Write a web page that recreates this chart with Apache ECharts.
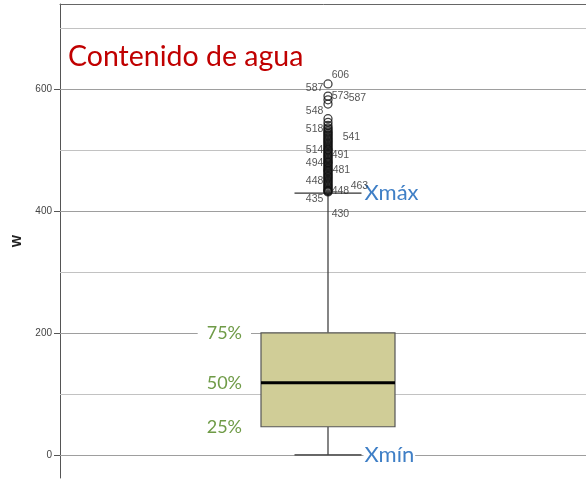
<!DOCTYPE html>
<html>
<head>
<meta charset="utf-8">
<script src="https://cdn.jsdelivr.net/npm/echarts@6/dist/echarts.min.js"></script>
<style>
  html, body { margin: 0; padding: 0; background: #fff; }
  #chart { width: 586px; height: 479px; }
</style>
</head>
<body>
<div id="chart"></div>
<script>
// Water content (W) box plot with labelled outliers
const categories = ['W'];
const yTickValues = [0, 200, 400, 600];
const yMinorValues = [100, 300, 500, 700];
// [min, Q1, median, Q3, max] of the whiskered range
const boxStats = [0, 46, 118, 200, 429];
const quartileNames = ['25%', '50%', '75%'];
const whiskerNames = ['Xmín', 'Xmáx'];
const outlierValues = [
  608, 588, 582, 575, 551, 545, 540, 536, 534, 531, 529, 527, 525, 523,
  521, 519, 517, 515, 513, 511, 509, 507, 505, 503, 501, 500, 498, 496,
  494, 492, 490, 488, 486, 484, 482, 480, 479, 477, 475, 473, 471, 469,
  467, 466, 464, 462, 460, 458, 456, 454, 452, 450, 448, 446, 444, 442,
  440, 438, 436, 434, 433, 432, 431
];
// case numbers shown next to some outliers
const caseAtValue = [608, 588, 582, 575, 551, 534, 521, 500, 492, 479, 466, 448, 440, 433, 432, 431];
const caseIds = ['606', '587', '573', '587', '548', '518', '541', '514', '491', '494', '481', '448', '463', '448', '430', '435'];

// label placement per case number: [side, dx, dy]
const casePlacement = [
  ['right', -3, -9], ['left', 2, -8], ['right', -3, -4], ['right', 14, -6],
  ['left', 2, -8], ['left', 2, 0], ['right', 8, 0], ['left', 2, 0],
  ['right', -3, 0], ['left', 2, 0], ['right', -2, 0], ['left', 2, 0],
  ['right', 16, 0], ['right', -3, 0], ['right', -3, 23], ['left', 2, 7]
];

const outlierData = outlierValues.map(v => {
  const k = caseAtValue.indexOf(v);
  const item = { value: [categories[0], v] };
  if (k >= 0) {
    const p = casePlacement[k];
    item.label = {
      show: true,
      formatter: caseIds[k],
      position: p[0],
      distance: 2,
      offset: [p[1], p[2]]
    };
  }
  return item;
});

const gridLines = yTickValues.map(v => ({ yAxis: v, lineStyle: { color: '#9e9e9e', width: 1.2, type: 'solid' } }))
  .concat(yMinorValues.map(v => ({ yAxis: v, lineStyle: { color: '#c2c2c2', width: 1.2, type: 'solid' } })));

const chart = echarts.init(document.getElementById('chart'), null, { renderer: 'canvas' });

chart.setOption({
  animation: false,
  backgroundColor: '#ffffff',
  title: {
    text: 'Contenido de agua',
    left: 63,
    top: 37,
    textStyle: { color: '#c00000', fontSize: 28.5, fontWeight: 'normal', fontFamily: 'Lato' }
  },
  grid: { left: 60, right: -10, top: 4, bottom: 1, show: false, outerBoundsMode: 'none', containLabel: false },
  xAxis: [
    {
      type: 'category', data: categories, boundaryGap: true,
      axisLine: { show: true, lineStyle: { color: '#aaaaaa', width: 1 } },
      axisTick: { show: false }, axisLabel: { show: false }, splitLine: { show: false }
    },
    {
      type: 'category', data: categories, position: 'top',
      axisLine: { show: true, lineStyle: { color: '#666666', width: 1 } },
      axisTick: { show: false }, axisLabel: { show: false }, splitLine: { show: false }
    }
  ],
  yAxis: {
    type: 'value',
    min: -38,
    max: 739,
    name: 'W',
    nameLocation: 'middle',
    nameGap: 34,
    nameTextStyle: { fontSize: 13, fontWeight: 'bold', color: '#222', fontFamily: 'Liberation Sans' },
    axisLine: { show: true, lineStyle: { color: '#555555', width: 1 } },
    axisTick: { show: true, customValues: yTickValues, length: 6, lineStyle: { color: '#555555' } },
    axisLabel: { customValues: yTickValues, margin: 8, fontSize: 10, color: '#444', fontFamily: 'Liberation Sans' },
    splitLine: { show: false }
  },
  series: [
    {
      type: 'line',
      data: [],
      silent: true,
      markLine: {
        silent: true,
        symbol: 'none',
        z: 1,
        label: { show: false },
        emphasis: { disabled: true },
        data: gridLines
      }
    },
    {
      type: 'custom',
      z: 3,
      data: [[0].concat(boxStats)],
      renderItem: function (params, api) {
        const x = api.value(0);
        const pMin = api.coord([x, api.value(1)]);
        const pQ1 = api.coord([x, api.value(2)]);
        const pMed = api.coord([x, api.value(3)]);
        const pQ3 = api.coord([x, api.value(4)]);
        const pMax = api.coord([x, api.value(5)]);
        const band = api.size([1, 0])[0];
        const half = band * 0.125;
        const cap = half / 2;
        const cx = pMed[0];
        const lineStyle = { stroke: '#333', lineWidth: 1.2 };
        const green = { fill: '#6f9b47', font: '18px Lato', align: 'right', verticalAlign: 'middle',
                        backgroundColor: '#fff', padding: [1, 9, 1, 9] };
        const blue = { fill: '#3f7fc6', font: '22px Lato', align: 'left', verticalAlign: 'middle',
                       backgroundColor: '#fff', padding: [0, 1, 0, 1] };
        return {
          type: 'group',
          children: [
            { type: 'line', shape: { x1: cx, y1: pQ3[1], x2: cx, y2: pMax[1] }, style: lineStyle },
            { type: 'line', shape: { x1: cx, y1: pQ1[1], x2: cx, y2: pMin[1] }, style: lineStyle },
            { type: 'line', shape: { x1: cx - cap, y1: pMax[1], x2: cx + cap, y2: pMax[1] }, style: lineStyle },
            { type: 'line', shape: { x1: cx - cap, y1: pMin[1], x2: cx + cap, y2: pMin[1] }, style: lineStyle },
            { type: 'rect', shape: { x: cx - half, y: pQ3[1], width: half * 2, height: pQ1[1] - pQ3[1] },
              style: { fill: '#d0cd97', stroke: '#555', lineWidth: 1.2 } },
            { type: 'line', shape: { x1: cx - half, y1: pMed[1], x2: cx + half, y2: pMed[1] },
              style: { stroke: '#000', lineWidth: 3 } },
            { type: 'text', x: cx - half - 10, y: pQ3[1], style: Object.assign({ text: quartileNames[2] }, green) },
            { type: 'text', x: cx - half - 10, y: pMed[1], style: Object.assign({ text: quartileNames[1] }, green) },
            { type: 'text', x: cx - half - 10, y: pQ1[1], style: Object.assign({ text: quartileNames[0] }, green) },
            { type: 'text', x: cx + cap + 2, y: pMax[1], style: Object.assign({ text: whiskerNames[1] }, blue) },
            { type: 'text', x: cx + cap + 2, y: pMin[1], style: Object.assign({ text: whiskerNames[0] }, blue) }
          ]
        };
      }
    },
    {
      type: 'scatter',
      z: 4,
      symbol: 'circle',
      symbolSize: 8,
      itemStyle: { color: 'rgba(0,0,0,0)', borderColor: '#111', borderWidth: 1.3 },
      label: { fontSize: 10.5, color: '#2a2a2a', fontFamily: 'Liberation Sans' },
      emphasis: { disabled: true },
      data: outlierData
    }
  ]
});
</script>
</body>
</html>
